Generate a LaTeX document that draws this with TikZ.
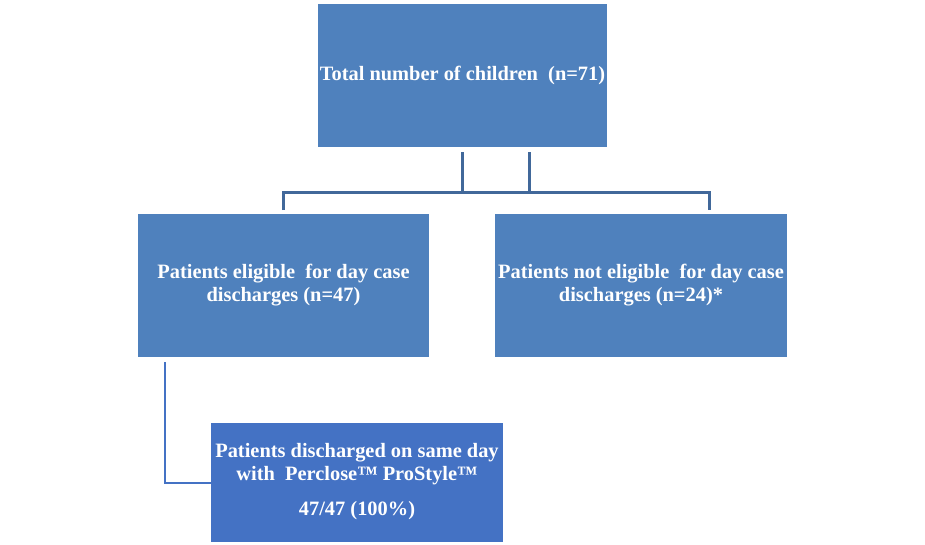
\documentclass[tikz,border=0pt]{standalone}
\usepackage{fontspec}
\setmainfont{Liberation Serif}
\definecolor{boxblue}{HTML}{4F81BD}
\definecolor{boxdark}{HTML}{4472C4}
\definecolor{linkblue}{HTML}{41689A}
\begin{document}
\begin{tikzpicture}[x=1pt,y=-1pt,
  box/.style={fill=boxblue,draw=none,inner sep=0pt,text=white,font=\fontsize{20.4}{23}\selectfont\bfseries,align=center},
  link/.style={draw=linkblue,line width=3pt},
  thin/.style={draw=boxdark,line width=1.6pt}]
\useasboundingbox (0,0) rectangle (925,544);
\node[box,minimum width=289pt,minimum height=143pt] (top) at (462.5,75.5) {Total number of children\ \ (n=71)};
\node[box,minimum width=291pt,minimum height=143pt] (left) at (283.5,285.5) {Patients eligible\ \ for day case\\discharges (n=47)};
\node[box,minimum width=292pt,minimum height=143pt] (right) at (641,285.5) {Patients not eligible\ \ for day case\\discharges (n=24)*};
\node[box,fill=boxdark,minimum width=292pt,minimum height=119pt] (bot) at (357,482) {Patients discharged on same day\\with\ \ Perclose™ ProStyle™\\[12pt]47/47 (100\%)};
\coordinate (a1) at (462,152);
\coordinate (a2) at (529,152);
\coordinate (h1) at (283,192);
\coordinate (h2) at (709,192);
\draw[link] (a1) -- (462,192);
\draw[link] (a2) -- (529,192);
\draw[link] (283,210) -- (h1) -- (h2) -- (709,210);
\draw[thin] (165,362) |- (bot.west |- 0,483);
\end{tikzpicture}
\end{document}
